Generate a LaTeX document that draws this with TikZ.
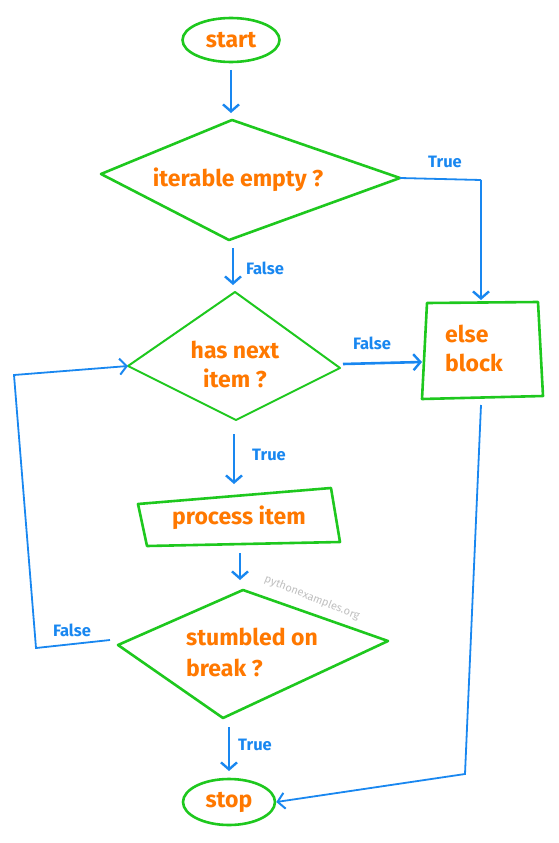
\documentclass[tikz,border=0pt]{standalone}
\usepackage{fontspec}
\setmainfont{Fira Sans}
\usetikzlibrary{arrows.meta}
\definecolor{fgreen}{RGB}{30,200,30}
\definecolor{forange}{RGB}{255,120,0}
\definecolor{fblue}{RGB}{25,135,240}
\tikzset{
  box/.style={draw=fgreen, line width=2.6pt, line join=round},
  term/.style={box, ellipse, inner sep=0pt},
  txt/.style={text=forange, font=\fontsize{23}{27}\selectfont\bfseries, align=center},
  lbl/.style={text=fblue, font=\fontsize{16.5}{19}\selectfont\bfseries},
  flow/.style={draw=fblue, line width=2.6pt, -{Straight Barb[length=7pt,width=16pt,line width=2.4pt]}},
  thin/.style={draw=fblue, line width=1.8pt},
  thinar/.style={thin, -{Straight Barb[length=7pt,width=16pt,line width=2pt]}}
}
\usetikzlibrary{shapes.geometric}
\begin{document}
\begin{tikzpicture}[x=1pt,y=-1pt]
\useasboundingbox (0,0) rectangle (559,843);
% start
\node[term, minimum width=97pt, minimum height=44pt] (start) at (231,40) {};
\node[txt] (starttxt) at (231,40) {start};
% diamond 1
\coordinate (d1t) at (232,120);
\coordinate (d1l) at (101,174);
\coordinate (d1r) at (400,178);
\coordinate (d1b) at (229,240);
\draw[box] (d1t) -- (d1r) -- (d1b) -- (d1l) -- cycle;
\node[txt] (d1) at (238,180) {iterable empty ?};
% diamond 2
\coordinate (d2t) at (235,292);
\coordinate (d2l) at (128,366);
\coordinate (d2r) at (340,368);
\coordinate (d2b) at (236,420);
\draw[box, line width=2pt] (d2t) -- (d2r) -- (d2b) -- (d2l) -- cycle;
\node[txt] (d2) at (235,364) {has next\\[2pt]item ?};
% else block
\coordinate (e1) at (427,303);
\coordinate (e2) at (538,302);
\coordinate (e3) at (543,396);
\coordinate (e4) at (422,399);
\draw[box] (e1) -- (e2) -- (e3) -- (e4) -- cycle;
\node[txt, align=left] (else) at (474,348) {else\\[2pt]block};
\coordinate (etop) at (481,300);
\coordinate (eleft) at (422,362);
\coordinate (ebot) at (481,405);
% process item
\coordinate (p1) at (138,504);
\coordinate (p2) at (331,488);
\coordinate (p3) at (340,542);
\coordinate (p4) at (147,546);
\draw[box] (p1) -- (p2) -- (p3) -- (p4) -- cycle;
\node[txt] (proc) at (239,518) {process item};
% diamond 3
\coordinate (d3t) at (243,590);
\coordinate (d3l) at (118,645);
\coordinate (d3r) at (388,641);
\coordinate (d3b) at (223,718);
\draw[box] (d3t) -- (d3r) -- (d3b) -- (d3l) -- cycle;
\node[txt, align=left] (d3) at (252,652) {stumbled on\\[4pt]break ?};
% watermark
\node[text=black!25, font=\fontsize{11}{13}\selectfont, rotate=-22] (wm) at (312,598) {pythonexamples.org};
% stop
\node[term, minimum width=92pt, minimum height=46pt] (stop) at (229,802) {};
\node[txt] (stoptxt) at (229,802) {stop};
% connectors
\draw[flow] (231,70) -- (231,113);
\draw[thin] (d1r) -- (481,180) coordinate (c1);
\draw[flow] (c1) -- (etop);
\node[lbl] (t1) at (445,162) {True};
\draw[flow] (233,248) -- (233,285);
\node[lbl] (f1) at (265,268) {False};
\draw[flow] (343,364) -- (eleft);
\node[lbl] (f2) at (372,343) {False};
\draw[flow] (234,434) -- (234,484);
\node[lbl] (t2) at (269,455) {True};
\draw[flow, line width=2pt] (240,553) -- (240,580);
\coordinate (lp1) at (110,640);
\coordinate (lp2) at (36,648);
\coordinate (lp3) at (14,375);
\draw[thinar] (lp1) -- (lp2) -- (lp3) -- (d2l);
\node[lbl] (f3) at (72,630) {False};
\draw[flow] (229,727) -- (229,771);
\node[lbl] (t3) at (255,745) {True};
\coordinate (ep) at (465,774);
\draw[thinar] (ebot) -- (ep) -- (stop.east);
\end{tikzpicture}
\end{document}
